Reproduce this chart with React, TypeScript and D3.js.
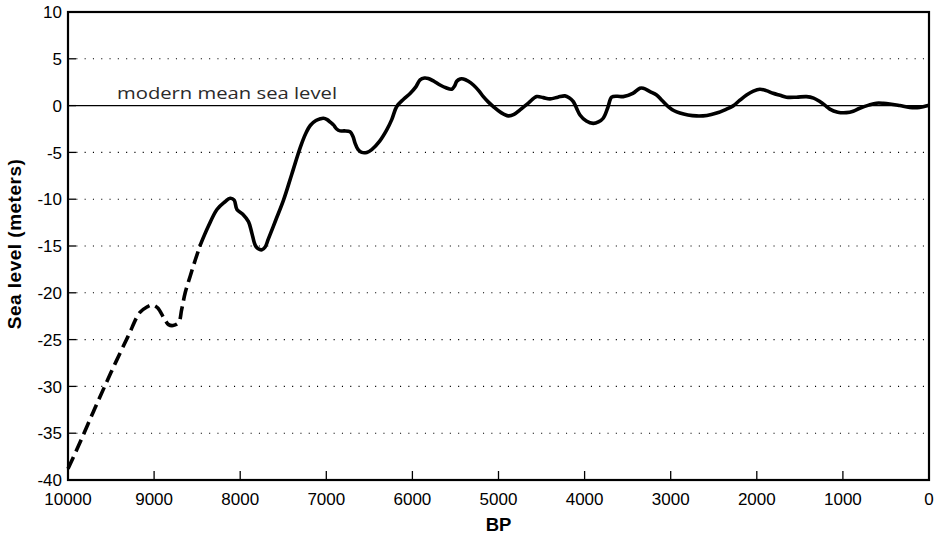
import React from "react";
import * as d3 from "d3";

// Years before present (BP) and sea level (m) along the curve
const dashedBP = [10000, 9900, 9700, 9500, 9300, 9165, 9080, 9025, 8960, 8880, 8832, 8780, 8716, 8680, 8639, 8580, 8522, 8464];
const dashedSL = [-38.8, -36.8, -32.6, -28.5, -24.6, -22.1, -21.5, -21.3, -21.6, -22.8, -23.4, -23.5, -23.2, -21.8, -20.0, -18.2, -16.5, -14.9];

const solidBP = [8464, 8370, 8270, 8180, 8116, 8070, 8038, 7970, 7904, 7865, 7826, 7790, 7748, 7710, 7675, 7590, 7497, 7400, 7300, 7240, 7184, 7120, 7068, 7034, 6990, 6950, 6917, 6880, 6840, 6790, 6724, 6690, 6666, 6630, 6588, 6530, 6472, 6380, 6298, 6240, 6182, 6100, 6027, 5960, 5911, 5860, 5815, 5750, 5679, 5610, 5543, 5510, 5485, 5445, 5408, 5350, 5292, 5230, 5176, 5120, 5060, 4970, 4886, 4820, 4750, 4650, 4557, 4480, 4402, 4310, 4228, 4180, 4131, 4090, 4054, 3980, 3900, 3840, 3784, 3730, 3686, 3620, 3552, 3440, 3358, 3319, 3240, 3164, 3100, 3029, 2960, 2893, 2800, 2700, 2580, 2467, 2370, 2275, 2200, 2119, 2040, 1965, 1890, 1811, 1730, 1655, 1540, 1423, 1340, 1268, 1210, 1152, 1060, 959, 880, 804, 700, 610, 530, 456, 340, 224, 110, 12];
const solidSL = [-14.9, -12.9, -11.1, -10.3, -9.9, -10.1, -11.1, -11.6, -12.4, -13.6, -14.9, -15.3, -15.4, -15.1, -14.3, -12.3, -10.1, -7.3, -4.4, -3.0, -2.1, -1.6, -1.4, -1.35, -1.5, -1.8, -2.06, -2.5, -2.7, -2.7, -2.8, -3.3, -4.0, -4.7, -5.0, -5.0, -4.7, -3.8, -2.6, -1.5, -0.1, 0.7, 1.3, 2.0, 2.75, 2.95, 2.9, 2.6, 2.2, 1.9, 1.75, 2.1, 2.6, 2.85, 2.85, 2.6, 2.2, 1.6, 0.96, 0.4, -0.1, -0.75, -1.1, -0.95, -0.46, 0.3, 0.96, 0.85, 0.72, 0.9, 1.04, 0.85, 0.43, -0.35, -1.0, -1.65, -1.9, -1.75, -1.35, -0.2, 0.9, 1.0, 0.96, 1.3, 1.86, 1.86, 1.5, 1.14, 0.55, -0.1, -0.55, -0.8, -1.0, -1.1, -1.05, -0.8, -0.45, -0.03, 0.55, 1.14, 1.55, 1.75, 1.6, 1.32, 1.1, 0.9, 0.9, 0.96, 0.8, 0.43, 0.05, -0.38, -0.7, -0.75, -0.6, -0.28, 0.05, 0.26, 0.25, 0.18, 0.0, -0.2, -0.2, 0.0];

const xTicks = [10000, 9000, 8000, 7000, 6000, 5000, 4000, 3000, 2000, 1000, 0];
const yTicks = [10, 5, 0, -5, -10, -15, -20, -25, -30, -35, -40];
const gridLevels = [5, -5, -10, -15, -20, -25, -30, -35];

const W = 939;
const H = 535;
const L = 68, R = 929, T = 12, B = 480;

export default function App() {
  const x = d3.scaleLinear().domain([10000, 0]).range([L, R]);
  const y = d3.scaleLinear().domain([-40, 10]).range([B, T]);
  const line = d3
    .line<[number, number]>()
    .x((d) => x(d[0]))
    .y((d) => y(d[1]))
    .curve(d3.curveCatmullRom.alpha(0.5));
  const dashed = line(dashedBP.map((v, i) => [v, dashedSL[i]] as [number, number])) || "";
  const solid = line(solidBP.map((v, i) => [v, solidSL[i]] as [number, number])) || "";
  const font = "Liberation Sans, Arial, Helvetica, sans-serif";

  return (
    <svg width={W} height={H} style={{ position: "absolute", left: 0, top: 0, background: "#fff" }}>
      {gridLevels.map((g) => (
        <line key={g} x1={L} x2={R} y1={y(g)} y2={y(g)} stroke="#000" strokeWidth={1.1} strokeDasharray="1.1 7.2" />
      ))}
      <line x1={L} x2={R} y1={y(0)} y2={y(0)} stroke="#000" strokeWidth={1.2} />
      <text x={117} y={99.3} fontFamily="Open Sans, sans-serif" fontSize={16.5} fill="#2a2a2a" textLength={220} lengthAdjust="spacingAndGlyphs">
        modern mean sea level
      </text>
      {/* frame */}
      <rect x={L} y={T} width={R - L} height={B - T} fill="none" stroke="#000" strokeWidth={2.2} />
      {/* y ticks */}
      {yTicks.map((t) => (
        <g key={t}>
          <line x1={L} x2={L + 8} y1={y(t)} y2={y(t)} stroke="#000" strokeWidth={1.3} />
          <text x={62} y={y(t)} dy="0.36em" textAnchor="end" fontFamily={font} fontSize={17} fill="#000">
            {t}
          </text>
        </g>
      ))}
      {/* x ticks */}
      {xTicks.map((t) => (
        <g key={t}>
          <line x1={x(t)} x2={x(t)} y1={B} y2={B - 9} stroke="#000" strokeWidth={1.3} />
          <text x={x(t)} y={505} textAnchor="middle" fontFamily={font} fontSize={17} fill="#000">
            {t}
          </text>
        </g>
      ))}
      <path d={dashed} fill="none" stroke="#000" strokeWidth={3.6} strokeDasharray="13 6" strokeLinecap="butt" />
      <path d={solid} fill="none" stroke="#000" strokeWidth={3.6} strokeLinejoin="round" strokeLinecap="round" />
      <text x={(L + R) / 2} y={530.5} textAnchor="middle" fontFamily={font} fontWeight="bold" fontSize={18.5} fill="#000">
        BP
      </text>
      <text
        transform={`translate(21, ${(T + B) / 2 - 2}) rotate(-90)`}
        textAnchor="middle"
        fontFamily={font}
        fontWeight="bold"
        fontSize={19}
        letterSpacing={0.5}
        fill="#000"
      >
        Sea level (meters)
      </text>
    </svg>
  );
}
